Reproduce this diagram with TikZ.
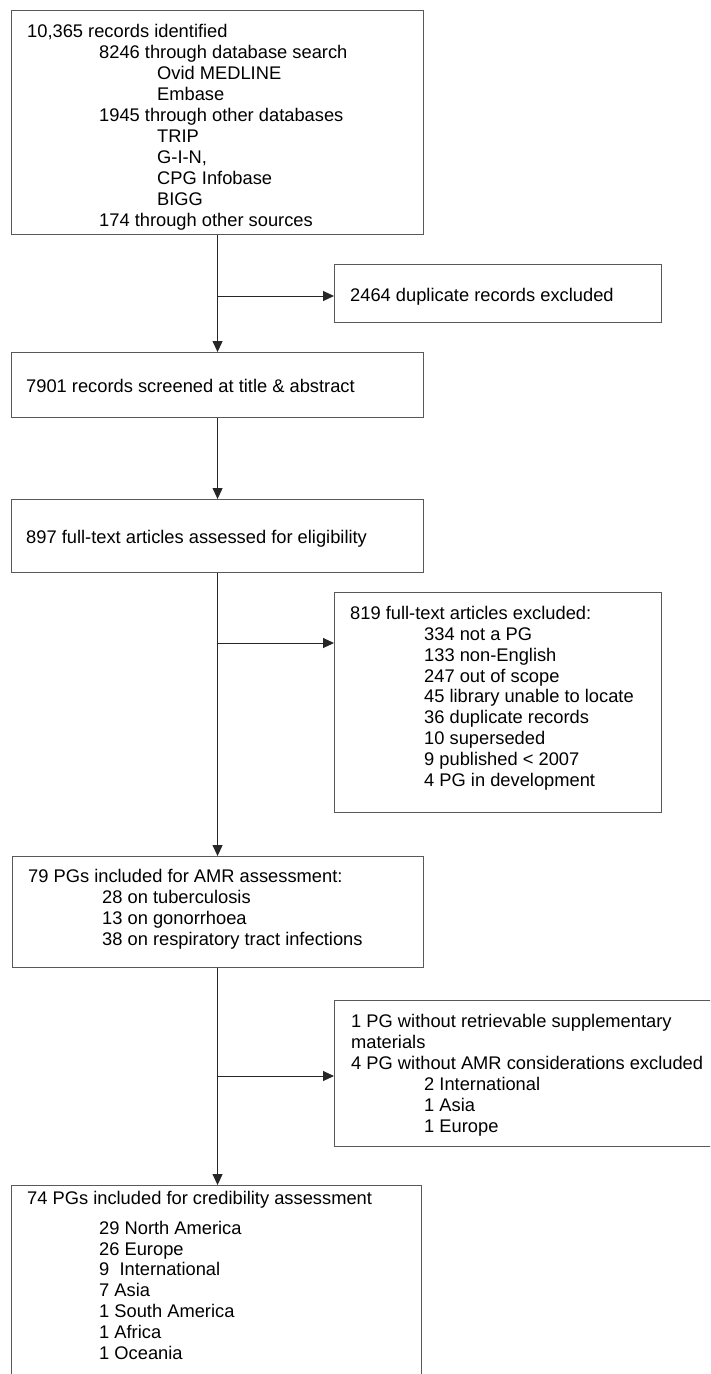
\documentclass[tikz,border=0pt]{standalone}
\usepackage{fontspec}
\setmainfont{Liberation Sans}
\usetikzlibrary{arrows.meta}
\begin{document}
\begin{tikzpicture}[x=1pt,y=-1pt,
  box/.style={draw=black!65,line width=1.1pt,rectangle,inner sep=0pt,anchor=north west},
  txt/.style={anchor=base west,inner sep=0pt,align=left,font=\fontsize{18.3}{20.9}\selectfont},
  conn/.style={draw=black!85,line width=1pt},
  arr/.style={conn,-{Triangle[length=11pt,width=10pt]}}]
\clip (0,0) rectangle (710,1374);
\useasboundingbox (0,0) rectangle (710,1374);
% boxes
\node[box,minimum width=412pt,minimum height=224pt] (b1) at (11,10) {};
\node[box,minimum width=327pt,minimum height=58pt] (b2) at (334,264) {};
\node[box,minimum width=412pt,minimum height=65pt] (b3) at (11,352) {};
\node[box,minimum width=412pt,minimum height=73pt] (b4) at (11,499) {};
\node[box,minimum width=327pt,minimum height=220pt] (b5) at (334,592) {};
\node[box,minimum width=411pt,minimum height=111pt] (b6) at (12,856) {};
\node[box,minimum width=400pt,minimum height=146pt] (b7) at (334,1000) {};
\node[box,minimum width=410pt,minimum height=220pt] (b8) at (11,1185) {};
% texts (anchored at the baseline of their last line)
\node[txt] (t1) at (27,226) {10,365 records identified\\
\hspace*{72pt}8246 through database search\\
\hspace*{130pt}Ovid MEDLINE\\
\hspace*{130pt}Embase\\
\hspace*{72pt}1945 through other databases\\
\hspace*{130pt}TRIP\\
\hspace*{130pt}G-I-N,\\
\hspace*{130pt}CPG Infobase\\
\hspace*{130pt}BIGG\\
\hspace*{72pt}174 through other sources};
\node[txt] (t2) at (350,301) {2464 duplicate records excluded};
\node[txt] (t3) at (26,392) {7901 records screened at title \& abstract};
\node[txt] (t4) at (26,543) {897 full-text articles assessed for eligibility};
\node[txt] (t5) at (350,786.5) {819 full-text articles excluded:\\
\hspace*{74pt}334 not a PG\\
\hspace*{74pt}133 non-English\\
\hspace*{74pt}247 out of scope\\
\hspace*{74pt}45 library unable to locate\\
\hspace*{74pt}36 duplicate records\\
\hspace*{74pt}10 superseded\\
\hspace*{74pt}9 published < 2007\\
\hspace*{74pt}4 PG in development};
\node[txt] (t6) at (28,945) {79 PGs included for AMR assessment:\\
\hspace*{74pt}28 on tuberculosis\\
\hspace*{74pt}13 on gonorrhoea\\
\hspace*{74pt}38 on respiratory tract infections};
\node[txt] (t7) at (351,1132) {1 PG without retrievable supplementary\\
materials\\
4 PG without AMR considerations excluded\\
\hspace*{73pt}2 International\\
\hspace*{73pt}1 Asia\\
\hspace*{73pt}1 Europe};
\node[txt] (t8) at (27,1359.5) {74 PGs included for credibility assessment\\[9pt]
\hspace*{72pt}29 North America\\
\hspace*{72pt}26 Europe\\
\hspace*{72pt}9\ \ International\\
\hspace*{72pt}7 Asia\\
\hspace*{72pt}1 South America\\
\hspace*{72pt}1 Africa\\
\hspace*{72pt}1 Oceania};
% connectors
\coordinate (j1) at (217,296);
\coordinate (j2) at (217,643);
\coordinate (j3) at (217,1076);
\draw[arr] (b1.south) -- (b1.south |- b3.north);
\draw[arr] (j1) -- (j1 -| b2.west);
\draw[arr] (b3.south) -- (b3.south |- b4.north);
\draw[arr] (b4.south) -- (b4.south |- b6.north);
\draw[arr] (j2) -- (j2 -| b5.west);
\draw[arr] (b6.south -| b4.south) -- (b4.south |- b8.north);
\draw[arr] (j3) -- (j3 -| b7.west);
\end{tikzpicture}
\end{document}
